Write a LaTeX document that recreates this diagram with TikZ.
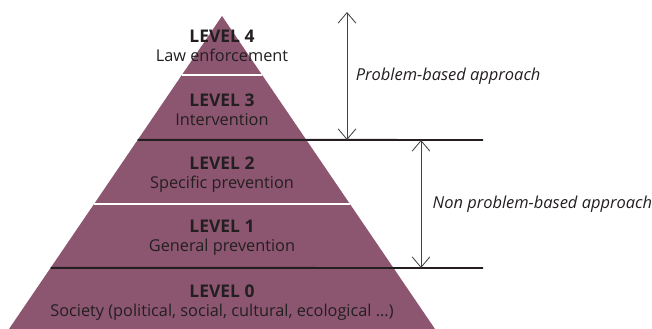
\documentclass[tikz,border=0pt]{standalone}
\usepackage{fontspec}
\setmainfont{Open Sans}
\usetikzlibrary{arrows.meta,calc}
\definecolor{mauve}{RGB}{140,86,112}
\definecolor{ink}{RGB}{35,31,32}
\tikzset{
  >={Straight Barb[length=2.6mm,width=4.4mm]},
  level/.style={align=center,text=ink,inner sep=0pt,
    font=\fontsize{11.6}{13.4}\selectfont},
  gap/.style={draw=white,line width=1.5pt},
  cut/.style={draw=ink,line width=1.4pt},
  span/.style={<->,draw=ink!85,line width=0.6pt},
  tag/.style={font=\fontsize{11.7}{13.4}\selectfont\itshape,text=ink,inner sep=0pt},
}
\newcommand{\lvl}[1]{{\fontsize{12.4}{13.4}\selectfont\textbf{LEVEL #1}}}

\begin{document}
\begin{tikzpicture}[x=0.025cm,y=0.025cm]
  \useasboundingbox (0,0) rectangle (652,329);
  % the pyramid
  \coordinate (apex) at (222,313);
  \coordinate (bl) at (9,0);
  \coordinate (br) at (435,0);
  \fill[mauve] (apex) -- (bl) -- (br) -- cycle;
  % white gaps 4/3 and 2/1
  \foreach \t in {0.1885,0.6006}
    \draw[gap] ($(apex)!\t!(bl)$) -- ($(apex)!\t!(br)$);
  % black cuts between the approaches
  \coordinate (cut1l) at ($(apex)!0.396!(bl)$);
  \coordinate (cut0l) at ($(apex)!0.805!(bl)$);
  \coordinate (cut1r) at (483,189);
  \coordinate (cut0r) at (483,61);
  \draw[cut] (cut1l) -- (cut1r);
  \draw[cut] (cut0l) -- (cut0r);
  % levels
  \foreach \n/\y/\txt in {4/283/Law enforcement,3/219.5/Intervention,
      2/154.5/Specific prevention,1/91/General prevention,
      0/26/{Society (political, social, cultural, ecological ...)}}
    \node[level] (lv\n) at (222,\y) {\lvl{\n}\\\txt};
  % approaches
  \coordinate (pbtop) at (347,317);
  \coordinate (pbbot) at (347,189);
  \coordinate (npbtop) at (421,189);
  \coordinate (npbbot) at (421,61);
  \draw[span] (pbtop) -- node[tag,right=6pt] (pb) {Problem-based approach} (pbbot);
  \draw[span] (npbtop) -- node[tag,right=8pt] (npb) {Non problem-based approach} (npbbot);
\end{tikzpicture}
\end{document}
